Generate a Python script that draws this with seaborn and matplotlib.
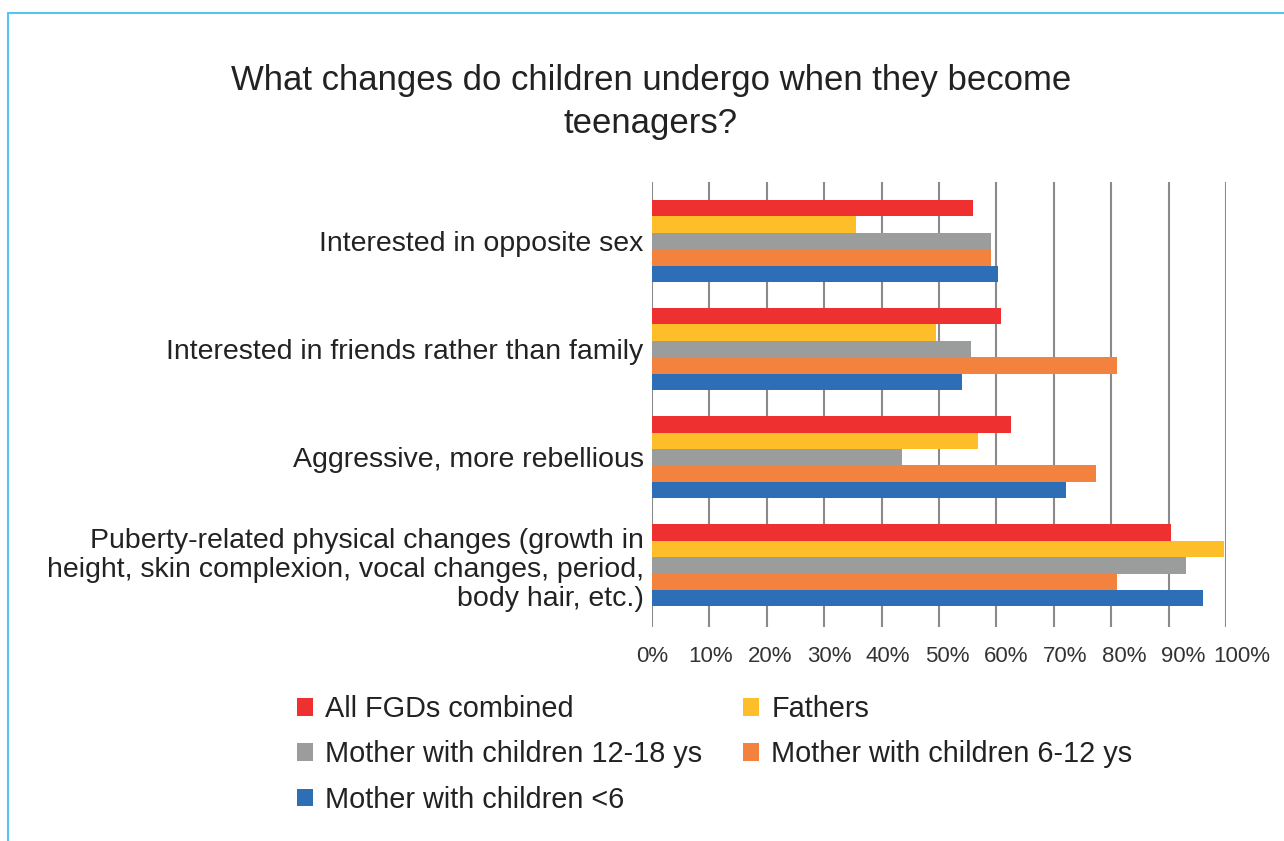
import numpy as np
import pandas as pd
import matplotlib.pyplot as plt
import seaborn as sns
from matplotlib.lines import Line2D
from matplotlib.transforms import ScaledTranslation

# ------------------------------------------------------------
# Dados
# ------------------------------------------------------------
categories = [
    "Interested in opposite sex",
    "Interested in friends rather than family",
    "Aggressive, more rebellious",
    "Puberty-related physical changes (growth in\nheight, skin complexion, vocal changes, period,\nbody hair, etc.)",
]
groups = [
    "All FGDs combined",
    "Fathers",
    "Mother with children 12-18 ys",
    "Mother with children 6-12 ys",
    "Mother with children <6",
]
all_fgds = [56, 60.8, 62.5, 90.5]
fathers = [35.5, 49.5, 56.8, 99.6]
mothers_12_18 = [59, 55.5, 43.5, 93]
mothers_6_12 = [59, 81, 77.3, 81]
mothers_under6 = [60.3, 54, 72.2, 96]

colors = ["#EE3030", "#FDBE2A", "#9B9D9D", "#F3823F", "#2D6EB7"]
x_ticks = list(range(0, 101, 10))
x_ticklabels = [f"{t}%" for t in x_ticks]

series = [all_fgds, fathers, mothers_12_18, mothers_6_12, mothers_under6]
rows = []
for g, vals in zip(groups, series):
    for c, v in zip(categories, vals):
        rows.append({"category": c, "group": g, "value": v})
df = pd.DataFrame(rows)

sns.set_theme(style="white")
plt.rcParams["font.family"] = ["Liberation Sans", "DejaVu Sans"]

fig = plt.figure(figsize=(12.84, 8.41), dpi=100)
ax = fig.add_axes([652 / 1284, 1 - 627 / 841, (1226 - 652) / 1284, (627 - 182) / 841])

sns.barplot(data=df, x="value", y="category", hue="group", order=categories,
            hue_order=groups, palette=colors, width=0.76, gap=0, saturation=1,
            orient="h", ax=ax, legend=True, linewidth=0)

ax.set_xlim(0, 100)
ax.set_ylim(3.57, -0.546)
ax.set_xticks(x_ticks)
ax.set_xticklabels(x_ticklabels, fontsize=16, color="#333333")
ax.tick_params(axis="x", length=0, pad=14)
ax.tick_params(axis="y", length=0, pad=6, labelsize=20.5, labelcolor="#222222")
# no original os rótulos do eixo x ficam um pouco mais espaçados que a grade
for i, tick in enumerate(ax.xaxis.get_major_ticks()):
    tick.label1.set_transform(tick.label1.get_transform() +
                              ScaledTranslation(i * 1.6 / 100, 0, fig.dpi_scale_trans))
for lab in ax.get_yticklabels():
    lab.set_horizontalalignment("right")
    lab.set_multialignment("right")
    lab.set_linespacing(1.15)
ax.set_xlabel("")
ax.set_ylabel("")
for s in ax.spines.values():
    s.set_visible(False)
ax.grid(axis="x", color="#8A8A8A", linewidth=1.5)
ax.set_axisbelow(True)

# Legenda (preenche por coluna)
handles, labels = ax.get_legend_handles_labels()
ax.get_legend().remove()
order = [0, 2, 4, 1, 3]
fig.legend([handles[i] for i in order], [labels[i] for i in order],
           loc="upper left", bbox_to_anchor=(297 / 1284, 1 - 695 / 841), ncol=2,
           frameon=False, fontsize=20.8, handlelength=0.56, handleheight=0.56,
           handletextpad=0.42, labelspacing=0.6, columnspacing=1.4,
           borderpad=0, borderaxespad=0, labelcolor="#222222")

# Título
fig.text(651 / 1284, 1 - 102 / 841,
         "What changes do children undergo when they become\nteenagers?",
         ha="center", va="center", fontsize=25, color="#222222", linespacing=1.4)

# Moldura azul clara
fig.add_artist(Line2D([8 / 1284, 8 / 1284], [0, 1 - 13 / 841],
                      transform=fig.transFigure, color="#55C4F0", linewidth=1.5))
fig.add_artist(Line2D([8 / 1284, 1], [1 - 13 / 841, 1 - 13 / 841],
                      transform=fig.transFigure, color="#55C4F0", linewidth=1.5))

fig.savefig("out.png", dpi=100, facecolor="white")
